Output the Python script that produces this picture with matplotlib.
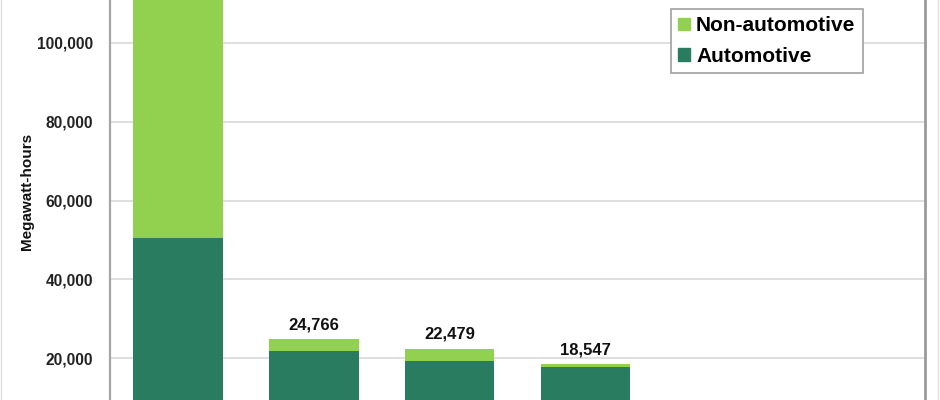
import matplotlib.pyplot as plt
from matplotlib.patches import Patch, Rectangle
from matplotlib.ticker import FuncFormatter

plt.rcParams["font.family"] = ["Liberation Sans", "DejaVu Sans"]

# values (first total is cut off at the top)
categories = ["A", "B", "C", "D"]
automotive = [50600, 21900, 19300, 17870]
totals = [125000, 24766, 22479, 18547]
non_automotive = [t - a for t, a in zip(totals, automotive)]
show_label = [False, True, True, True]
yticks = [20000, 40000, 60000, 80000, 100000]

dark_green = "#297C5F"
light_green = "#92D050"

fig = plt.figure(figsize=(9.4, 4.0), dpi=100)
ax = fig.add_axes([110 / 940, 0, (925 - 110) / 940, 1])

x = list(range(len(categories)))
ax.bar(x, automotive, width=0.66, color=dark_green, zorder=3)
ax.bar(x, non_automotive, bottom=automotive, width=0.66, color=light_green, zorder=3)

for xi, t, s in zip(x, totals, show_label):
    if s:
        ax.annotate(f"{t:,}", (xi, t), xytext=(0, 5), textcoords="offset points",
                    ha="center", va="bottom", fontsize=12, fontweight="bold", color="#111111")

ax.set_xlim(-0.5, 5.5)
ax.set_ylim(9430, 110824)
ax.set_yticks(yticks)
ax.yaxis.set_major_formatter(FuncFormatter(lambda v, p: f"{int(v):,}"))
ax.set_xticks([])
ax.tick_params(axis="y", length=0, pad=12, labelsize=11.2)
for lab in ax.get_yticklabels():
    lab.set_fontweight("bold")
    lab.set_color("#222222")
ax.grid(axis="y", color="#d9d9d9", linewidth=1.2, zorder=0)

for side in ["top", "bottom"]:
    ax.spines[side].set_visible(False)
ax.spines["left"].set_color("#a6a6a6")
ax.spines["left"].set_linewidth(1.6)
ax.spines["right"].set_color("#9a9a9a")
ax.spines["right"].set_linewidth(2)

fig.text(27 / 940, 1 - 191 / 400, "Megawatt-hours", rotation=90, ha="center", va="center",
         fontsize=11, fontweight="bold", color="#111111")

handles = [Patch(color=light_green, label="Non-automotive"),
           Patch(color=dark_green, label="Automotive")]
leg = fig.legend(handles=handles, loc="upper left", bbox_to_anchor=(671 / 940, 1 - 9 / 400),
                 bbox_transform=fig.transFigure, borderaxespad=0, fancybox=False,
                 edgecolor="#a0a0a0", framealpha=1, handlelength=0.55, handleheight=0.55,
                 handletextpad=0.3, labelspacing=0.55, borderpad=0.35,
                 prop={"size": 15, "weight": "bold"})
leg.get_frame().set_linewidth(1.2)

# faint outer border of the chart
fig.patches.append(Rectangle((1 / 940, -0.01), 937 / 940, 1.02, transform=fig.transFigure,
                             fill=False, edgecolor="#e0e0e0", linewidth=1))

fig.savefig("out.png", dpi=100)
